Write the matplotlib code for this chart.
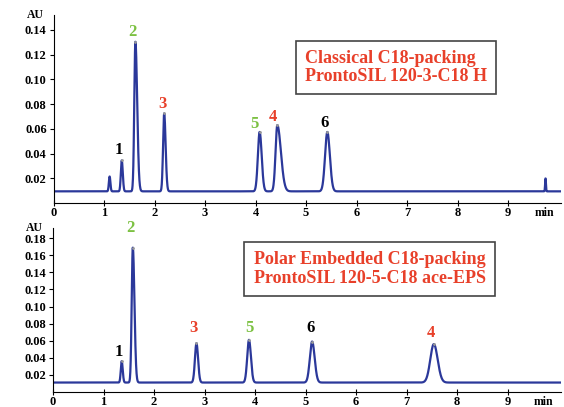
import numpy as np
import matplotlib.pyplot as plt

plt.rcParams['font.family'] = ['Liberation Serif', 'DejaVu Serif']

# top: classical C18
top_labels = ['', '1', '2', '3', '5', '4', '6', '']
top_times = [1.11, 1.35, 1.62, 2.19, 4.08, 4.43, 5.42, 9.74]
top_heights = [0.012, 0.025, 0.121, 0.063, 0.048, 0.0535, 0.048, 0.0105]
top_sig_left = [0.015, 0.018, 0.022, 0.022, 0.035, 0.035, 0.045, 0.008]
top_sig_right = [0.015, 0.02, 0.035, 0.028, 0.04, 0.07, 0.05, 0.008]
top_base = 0.0095

# bottom: polar embedded
bot_labels = ['1', '2', '3', '5', '6', '4']
bot_times = [1.36, 1.58, 2.84, 3.88, 5.13, 7.54]
bot_heights = [0.025, 0.158, 0.046, 0.05, 0.048, 0.045]
bot_sig_left = [0.018, 0.022, 0.03, 0.035, 0.045, 0.07]
bot_sig_right = [0.02, 0.032, 0.032, 0.038, 0.05, 0.075]
bot_base = 0.011

label_colors = {'1': 'black', '2': '#7cc142', '3': '#e8402a', '4': '#e8402a',
                '5': '#7cc142', '6': 'black'}
line_color = '#2b389a'
red = '#e8402a'


def trace(t, times, heights, sl, sr, base):
    y = np.full_like(t, base)
    for t0, h, a, b in zip(times, heights, sl, sr):
        s = np.where(t < t0, a, b)
        y += h * np.exp(-0.5 * ((t - t0) / s) ** 2)
    return y


t = np.linspace(0, 10.1, 4000)

fig = plt.figure(figsize=(5.64, 4.07), dpi=100)
ax1 = fig.add_axes([0.095, 0.501, 0.9, 0.462])
ax2 = fig.add_axes([0.094, 0.037, 0.9, 0.403])


def style(ax, ymax, yticks, times, heights, labels, base, offs, box_text, box_xy):
    for s in ['top', 'right']:
        ax.spines[s].set_visible(False)
    ax.set_xlim(0, 10.05)
    ax.set_ylim(0, ymax)
    ax.set_xticks(range(10))
    ax.set_yticks(yticks)
    ax.set_yticklabels(['%.2f' % v for v in yticks])
    ax.tick_params(axis='both', labelsize=9, length=3, width=0.8, pad=2)
    ax.tick_params(axis='x', direction='inout', length=4, pad=1)
    for lab in ax.get_xticklabels() + ax.get_yticklabels():
        lab.set_fontweight('bold')
    ax.text(-0.02, 1.0, 'AU', transform=ax.transAxes, ha='right', va='center',
            fontsize=8.5, fontweight='bold')
    ax.annotate('min', (9.72, 0), xycoords=ax.get_xaxis_transform(),
                xytext=(0, -3), textcoords='offset points', ha='center', va='top',
                fontsize=8.5, fontweight='bold')
    for lab, t0, h, (dx, dy) in zip(labels, times, heights, offs):
        if not lab:
            continue
        ax.plot(t0, base + h, marker='.', ms=2, color='#999999')
        ax.annotate(lab, (t0, base + h), xytext=(dx, dy), textcoords='offset points',
                    ha='center', va='bottom', fontsize=12, fontweight='bold',
                    color=label_colors[lab])
    ax.text(box_xy[0], box_xy[1], box_text, transform=ax.transAxes, ha='left',
            va='center', fontsize=13, fontweight='bold', color=red, linespacing=1.1,
            bbox=dict(boxstyle='square,pad=0.5', fc='white', ec='#444444', lw=1.2))


ax1.plot(t, trace(t, top_times, top_heights, top_sig_left, top_sig_right, top_base),
         color=line_color, lw=1.6)
top_offs = [(0, 0), (-2, 2), (-2, 1), (-1, 1), (-4, 0), (-3, 0), (-2, 1), (0, 0)]
style(ax1, 0.152, np.arange(0.02, 0.141, 0.02), top_times, top_heights, top_labels,
      top_base, top_offs, 'Classical C18-packing\nProntoSIL 120-3-C18 H', (0.495, 0.72))

ax2.plot(t, trace(t, bot_times, bot_heights, bot_sig_left, bot_sig_right, bot_base),
         color=line_color, lw=1.6)
bot_offs = [(-2, 1), (-2, 8), (-2, 5), (0, 3), (-1, 4), (-2, 2)]
style(ax2, 0.192, np.arange(0.02, 0.181, 0.02), bot_times, bot_heights, bot_labels,
      bot_base, bot_offs, 'Polar Embedded C18-packing\nProntoSIL 120-5-C18 ace-EPS',
      (0.395, 0.75))

fig.savefig('out.png', dpi=100)
